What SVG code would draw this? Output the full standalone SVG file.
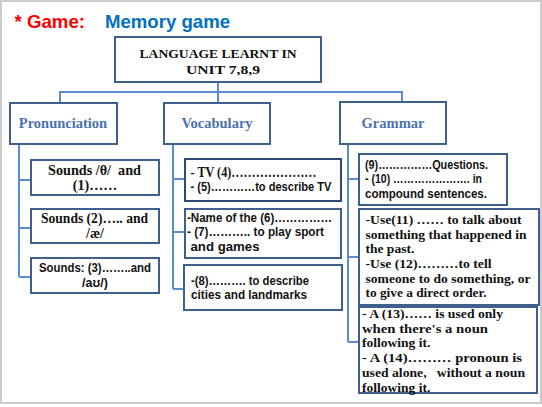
<svg xmlns="http://www.w3.org/2000/svg" width="542" height="407" viewBox="0 0 542 407">
<style>
.box{fill:#fff;stroke:#3f5f8c;stroke-width:2}
.con{fill:none;stroke:#5b8bd0;stroke-width:2}
.serif{font-family:"Liberation Serif","Times New Roman",serif;font-weight:bold;fill:#111}
.sans{font-family:"Liberation Sans",Arial,sans-serif;font-weight:bold;fill:#111}
.head{font-family:"Liberation Serif","Times New Roman",serif;font-weight:bold;font-size:14.5px;fill:#4a72b0;text-anchor:middle}
</style>
<rect x="0" y="0" width="542" height="407" fill="#fff"/>
<rect x="1" y="1" width="540" height="402" fill="#fff" stroke="#cccccc" stroke-width="2"/>
<g id="title">
<text x="14.5" y="27.5" font-family="Liberation Sans,Arial,sans-serif" font-weight="bold" font-size="18.5" fill="#ff0000" textLength="70.5" lengthAdjust="spacingAndGlyphs">* Game:</text>
<text x="105" y="27.5" font-family="Liberation Sans,Arial,sans-serif" font-weight="bold" font-size="18.5" fill="#0070c0" textLength="125" lengthAdjust="spacingAndGlyphs">Memory game</text>
</g>
<g id="connectors">
<path class="con" d="M218,82V92M60,103V92H402V102M218,92V103"/>
<path class="con" d="M19,144V277M19,180H31M19,228H31M19,277H31"/>
<path class="con" d="M173,144V289M173,179H185M173,232H185M173,289H184"/>
<path class="con" d="M348,144V342M348,179H359M348,257H359M348,342H359"/>
</g>
<g id="root">
<rect class="box" x="115" y="37" width="206" height="45"/>
<text class="serif" x="218" y="58" font-size="13.5" text-anchor="middle" textLength="157" lengthAdjust="spacingAndGlyphs">LANGUAGE LEARNT IN</text>
<text class="serif" x="223" y="74" font-size="13.5" text-anchor="middle" textLength="74" lengthAdjust="spacingAndGlyphs">UNIT 7,8,9</text>
</g>
<g id="pronunciation">
<rect class="box" x="10" y="103" width="107" height="41"/>
<text class="head" x="63" y="128">Pronunciation</text>
</g>
<g id="vocabulary">
<rect class="box" x="164" y="103" width="106" height="41"/>
<text class="head" x="217" y="128">Vocabulary</text>
</g>
<g id="grammar">
<rect class="box" x="340" y="102" width="106" height="42"/>
<text class="head" x="393" y="128">Grammar</text>
</g>
<g id="p1">
<rect class="box" x="31" y="160" width="128" height="35"/>
<text class="serif" x="48" y="175" font-size="14" textLength="93" lengthAdjust="spacingAndGlyphs" xml:space="preserve">Sounds /θ/  and</text>
<text class="serif" x="95" y="190" font-size="14" text-anchor="middle">(1)……</text>
</g>
<g id="p2">
<rect class="box" x="31" y="209" width="128" height="34"/>
<text class="serif" x="41" y="222.5" font-size="14" textLength="107" lengthAdjust="spacingAndGlyphs">Sounds (2)….. and</text>
<text class="serif" x="95" y="238" font-size="14" text-anchor="middle">/æ/</text>
</g>
<g id="p3">
<rect class="box" x="31" y="258" width="128" height="35"/>
<text class="sans" x="39" y="271.5" font-size="12.5" textLength="112" lengthAdjust="spacingAndGlyphs">Sounds: (3)……..and</text>
<text class="sans" x="95" y="286.5" font-size="12.5" text-anchor="middle">/aʊ/)</text>
</g>
<g id="v1">
<rect class="box" x="185" y="159" width="156" height="42" style="stroke:#2f4a78"/>
<text class="serif" x="190.5" y="177" font-size="14" textLength="126" lengthAdjust="spacingAndGlyphs">- TV (4)…………………</text>
<text class="sans" x="190.5" y="191" font-size="12.5" textLength="141" lengthAdjust="spacingAndGlyphs">- (5)…………to describe TV</text>
</g>
<g id="v2">
<rect class="box" x="185" y="209" width="156" height="49"/>
<text class="sans" x="187" y="222" font-size="12.5" textLength="145" lengthAdjust="spacingAndGlyphs">-Name of the (6)……………</text>
<text class="sans" x="187" y="236" font-size="12.5" textLength="137" lengthAdjust="spacingAndGlyphs">- (7)……….. to play sport</text>
<text class="sans" x="190.5" y="251" font-size="12.5" textLength="69" lengthAdjust="spacingAndGlyphs">and games</text>
</g>
<g id="v3">
<rect class="box" x="184" y="265" width="158" height="45"/>
<text class="sans" x="191" y="285" font-size="12.5" textLength="118" lengthAdjust="spacingAndGlyphs">-(8)………. to describe</text>
<text class="sans" x="191" y="299" font-size="12.5" textLength="116" lengthAdjust="spacingAndGlyphs">cities and landmarks</text>
</g>
<g id="g1">
<rect class="box" x="359" y="154" width="148" height="51"/>
<text class="sans" x="365" y="168.5" font-size="12.5" textLength="123" lengthAdjust="spacingAndGlyphs">(9)……………Questions.</text>
<text class="sans" x="365" y="183" font-size="12.5" textLength="117" lengthAdjust="spacingAndGlyphs">- (10) …………………. in</text>
<text class="sans" x="365" y="197.5" font-size="12.5" textLength="122" lengthAdjust="spacingAndGlyphs">compound sentences.</text>
</g>
<g id="g2">
<rect class="box" x="359" y="209" width="180" height="96"/>
<text class="serif" x="365.5" y="224" font-size="13.5" textLength="156" lengthAdjust="spacingAndGlyphs">-Use(11) …… to talk about</text>
<text class="serif" x="365.5" y="238.5" font-size="13.5" textLength="161" lengthAdjust="spacingAndGlyphs">something that happened in</text>
<text class="serif" x="365.5" y="253" font-size="13.5">the past.</text>
<text class="serif" x="365.5" y="268" font-size="13.5" textLength="126" lengthAdjust="spacingAndGlyphs">-Use (12)………to tell</text>
<text class="serif" x="365.5" y="282.5" font-size="13.5" textLength="165" lengthAdjust="spacingAndGlyphs">someone to do something, or</text>
<text class="serif" x="365.5" y="297" font-size="13.5" textLength="121" lengthAdjust="spacingAndGlyphs">to give a direct order.</text>
</g>
<g id="g3">
<rect class="box" x="359" y="307" width="178" height="86"/>
<text class="serif" x="362" y="318" font-size="13.5" textLength="141" lengthAdjust="spacingAndGlyphs">- A (13)…… is used only</text>
<text class="serif" x="362" y="333" font-size="13.5" textLength="126" lengthAdjust="spacingAndGlyphs">when there's a noun</text>
<text class="serif" x="362" y="347" font-size="13.5">following it.</text>
<text class="serif" x="362" y="362" font-size="13.5" textLength="160" lengthAdjust="spacingAndGlyphs">- A (14)……… pronoun is</text>
<text class="serif" x="362" y="377" font-size="13.5" textLength="163" lengthAdjust="spacingAndGlyphs" xml:space="preserve">used alone,   without a noun</text>
<text class="serif" x="362" y="391.5" font-size="13.5">following it.</text>
</g>
</svg>
